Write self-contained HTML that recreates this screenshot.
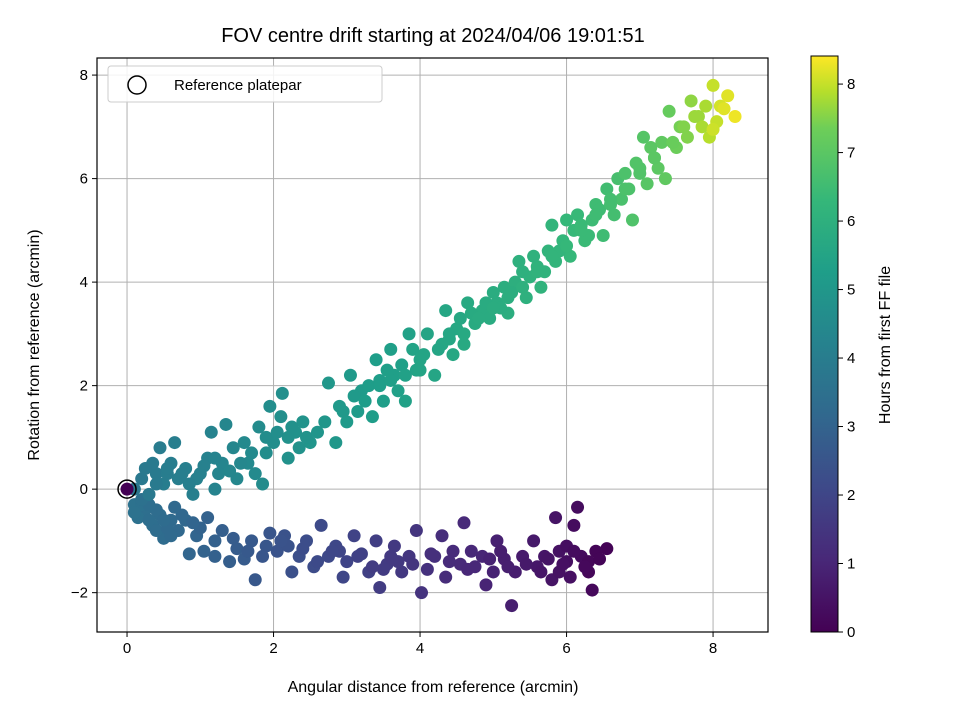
<!DOCTYPE html>
<html><head><meta charset="utf-8">
<style>body{margin:0;background:#fff}svg{display:block;font-family:"Liberation Sans","DejaVu Sans",sans-serif}</style>
</head><body>
<svg id="c" width="960" height="720"></svg>
<script>
const lowerX=[6.55,6.4,6.3,6.35,6.2,6.1,6.15,6.0,6.05,5.9,5.85,5.8,5.7,5.6,5.55,5.4,5.3,5.25,5.15,5.05,5.0,4.9,4.85,4.75,4.6,4.55,4.45,4.35,4.3,4.2,4.1,4.02,3.95,3.85,3.75,3.65,3.55,3.45,3.4,3.3,3.2,3.1,3.0,2.95,2.85,2.75,2.65,2.55,2.45,2.35,2.25,2.15,2.05,1.95,1.85,1.75,1.7,1.6,1.5,1.4,1.3,1.2,1.1,1.05,0.95,0.85,0.8,0.7,0.6,0.5,0.45,0.35,0.25,0.15,0.1,3.6,3.5,3.7,4.7,5.2,6.3,6.0,5.9,2.9,2.2,1.2,0.6,0.4,0.3,0.2,
6.45,6.25,6.1,5.95,5.75,5.65,5.45,5.1,4.95,4.65,4.4,4.15,3.9,3.62,3.35,3.15,2.8,2.6,2.4,2.1,1.9,1.65,1.45,1.0,0.9,0.75,0.55,0.4,0.3,0.2,0.1,0.65,0.5];
const lowerY=[-1.15,-1.2,-1.6,-1.95,-1.3,-0.7,-0.35,-1.4,-1.7,-1.2,-0.55,-1.75,-1.3,-1.5,-1.0,-1.3,-1.6,-2.25,-1.35,-1.0,-1.6,-1.85,-1.3,-1.5,-0.65,-1.45,-1.2,-1.7,-0.9,-1.3,-1.55,-2.0,-0.8,-1.3,-1.6,-1.1,-1.45,-1.9,-1.0,-1.6,-1.25,-0.9,-1.4,-1.7,-1.1,-1.3,-0.7,-1.5,-1.0,-1.3,-1.6,-0.9,-1.2,-0.85,-1.3,-1.75,-1.0,-1.35,-1.15,-1.4,-0.8,-1.0,-0.55,-1.2,-0.9,-1.25,-0.6,-0.8,-0.6,-0.95,-0.5,-0.7,-0.4,-0.55,-0.3,-1.3,-1.55,-1.4,-1.2,-1.5,-1.4,-1.1,-1.6,-1.2,-1.1,-1.3,-0.9,-0.8,-0.6,-0.3,
-1.35,-1.5,-1.2,-1.45,-1.35,-1.6,-1.45,-1.2,-1.35,-1.55,-1.4,-1.25,-1.45,-1.35,-1.5,-1.3,-1.2,-1.4,-1.15,-1.0,-1.1,-1.2,-0.95,-0.75,-0.65,-0.5,-0.75,-0.4,-0.3,-0.2,-0.45,-0.35,-0.6];
const lowerT=[0.05,0.1,0.15,0.2,0.25,0.3,0.3,0.35,0.4,0.45,0.5,0.5,0.55,0.6,0.65,0.7,0.75,0.8,0.8,0.85,0.9,0.95,1.0,1.05,1.1,1.1,1.15,1.2,1.25,1.3,1.35,1.4,1.45,1.5,1.55,1.6,1.65,1.7,1.75,1.8,1.85,1.9,1.95,2.0,2.05,2.1,2.15,2.2,2.25,2.3,2.35,2.4,2.45,2.5,2.55,2.6,2.65,2.7,2.75,2.8,2.85,2.9,2.95,3.0,3.05,3.1,3.15,3.2,3.25,3.3,3.35,3.4,3.45,3.5,3.55,1.6,1.65,1.55,1.05,0.8,0.15,0.35,0.45,2.0,2.4,2.9,3.25,3.35,3.4,3.5,
0.1,0.2,0.3,0.4,0.5,0.55,0.65,0.8,0.9,1.05,1.15,1.3,1.45,1.6,1.7,1.85,2.05,2.15,2.25,2.45,2.55,2.65,2.75,3.0,3.05,3.15,3.25,3.35,3.4,3.5,3.55,3.2,3.3];
const upperX=[0.1,0.2,0.3,0.4,0.45,0.5,0.6,0.65,0.7,0.8,0.9,1.0,1.1,1.15,1.2,1.3,1.35,1.45,1.5,1.6,1.65,1.75,1.8,1.85,1.9,1.95,2.0,2.1,2.12,2.2,2.3,2.4,2.5,2.7,2.75,2.85,2.9,3.0,3.05,3.15,3.2,3.3,3.35,3.4,3.5,3.55,3.6,3.7,3.75,3.8,3.85,3.95,4.05,4.1,4.2,4.3,4.35,4.45,4.5,4.6,4.65,4.75,4.85,4.95,5.05,5.15,5.2,5.3,5.35,5.45,5.5,5.6,5.65,5.75,5.8,5.85,5.95,6.05,6.1,6.15,6.25,6.35,6.4,6.5,6.55,6.65,6.7,6.75,6.85,6.9,7.0,7.05,7.1,7.2,7.3,7.35,7.4,7.5,7.55,7.65,7.7,7.8,7.9,7.95,8.0,8.05,8.1,8.2,8.3,7.85,8.0,4.4,4.55,4.7,4.9,5.0,5.1,5.25,5.4,5.55,5.7,5.9,6.0,6.2,6.3,6.45,6.6,6.8,6.95,7.15,7.25,3.45,3.65,3.9,4.0,2.2,2.35,1.55,1.25,0.95,0.55,0.35,0.25,
0.4,0.55,0.75,0.85,1.05,1.2,1.4,1.7,1.9,2.05,2.25,2.45,2.6,2.95,3.1,3.25,3.45,3.6,3.8,4.0,4.25,4.4,4.6,4.8,5.0,5.2,5.4,5.6,5.8,6.0,6.2,6.4,6.6,6.8,7.0,7.2,7.45,7.6,7.75,8.15];
const upperY=[0.0,0.2,-0.1,0.3,0.8,0.1,0.5,0.9,0.2,0.4,-0.1,0.3,0.6,1.1,0.0,0.5,1.25,0.8,0.2,0.9,0.5,0.3,1.2,0.1,0.7,1.6,0.9,1.4,1.85,0.6,1.1,1.3,0.9,1.3,2.05,0.9,1.6,1.3,2.2,1.5,1.9,2.0,1.4,2.5,1.7,2.3,2.7,1.9,2.4,1.7,3.0,2.3,2.6,3.0,2.2,2.8,3.45,2.6,3.1,2.8,3.6,3.2,3.45,3.3,3.6,3.9,3.4,4.0,4.4,3.7,4.1,4.3,3.9,4.6,5.1,4.4,4.8,4.5,5.0,5.3,4.8,5.2,5.5,4.9,5.8,5.3,6.0,5.6,5.8,5.2,6.2,6.8,5.9,6.4,6.7,6.0,7.3,6.6,7.0,6.8,7.5,7.2,7.4,6.8,7.8,7.1,7.4,7.6,7.2,7.0,6.95,3.0,3.3,3.4,3.6,3.8,3.5,3.8,4.2,4.5,4.2,4.6,5.2,5.1,4.9,5.4,5.6,6.1,6.3,6.6,6.2,2.1,2.2,2.7,2.3,1.0,0.8,0.5,0.3,0.2,0.3,0.5,0.4,
0.1,0.4,0.3,0.1,0.45,0.6,0.35,0.7,1.0,1.1,1.2,1.0,1.1,1.5,1.8,1.7,2.0,2.1,2.2,2.5,2.7,2.9,3.0,3.3,3.5,3.7,3.9,4.2,4.5,4.7,5.0,5.3,5.5,5.8,6.1,6.4,6.7,7.0,7.2,7.35];
const upperT=[3.7,3.8,3.85,3.9,3.95,4.0,4.0,4.05,4.05,4.1,4.1,4.15,4.2,4.25,4.25,4.3,4.35,4.35,4.4,4.45,4.45,4.5,4.55,4.55,4.6,4.6,4.65,4.7,4.7,4.75,4.8,4.85,4.9,4.95,5.0,5.0,5.05,5.1,5.1,5.15,5.15,5.2,5.2,5.25,5.25,5.3,5.3,5.35,5.35,5.4,5.4,5.45,5.5,5.5,5.55,5.6,5.6,5.65,5.65,5.7,5.7,5.75,5.8,5.8,5.85,5.9,5.9,5.95,6.0,6.0,6.05,6.1,6.1,6.15,6.2,6.2,6.25,6.3,6.35,6.35,6.4,6.45,6.5,6.5,6.55,6.6,6.65,6.7,6.75,6.8,6.85,6.9,6.95,7.0,7.1,7.1,7.2,7.3,7.4,7.5,7.6,7.7,7.8,7.9,8.0,8.0,8.1,8.2,8.3,7.8,8.05,5.6,5.65,5.75,5.8,5.85,5.85,5.9,6.0,6.05,6.1,6.2,6.3,6.4,6.4,6.5,6.6,6.75,6.85,7.0,7.05,5.25,5.3,5.45,5.5,4.75,4.8,4.4,4.3,4.15,4.0,3.9,3.85,
3.9,4.0,4.05,4.1,4.15,4.25,4.35,4.5,4.6,4.65,4.75,4.85,4.9,5.05,5.1,5.2,5.25,5.3,5.4,5.5,5.55,5.6,5.7,5.8,5.85,5.9,6.0,6.1,6.2,6.3,6.4,6.5,6.6,6.75,6.85,7.0,7.25,7.5,7.7,8.2];
const xTicks=[0,2,4,6,8];
const yTicks=[-2,0,2,4,6,8];
const cTicks=[0,1,2,3,4,5,6,7,8];

const NS="http://www.w3.org/2000/svg";
const svg=document.getElementById('c');
const L=97,R=768,T=58,B=632;
const xMin=-0.41,xMax=8.75,yMin=-2.76,yMax=8.33,tMax=8.41;
const sx=v=>L+(v-xMin)/(xMax-xMin)*(R-L);
const sy=v=>B-(v-yMin)/(yMax-yMin)*(B-T);
const CT=56,CB=632;
const sc=v=>CB-v/tMax*(CB-CT);
const stops=[[0,'#440154'],[.125,'#482878'],[.25,'#3e4989'],[.375,'#31688e'],[.5,'#26828e'],[.625,'#1f9e89'],[.75,'#35b779'],[.875,'#6ece58'],[.9375,'#b5de2b'],[1,'#fde725']];
function hex(h){return [1,3,5].map(i=>parseInt(h.substr(i,2),16));}
function cmap(f){f=Math.max(0,Math.min(1,f));for(let i=1;i<stops.length;i++){if(f<=stops[i][0]){const a=stops[i-1],b=stops[i];const u=(f-a[0])/(b[0]-a[0]);const A=hex(a[1]),B2=hex(b[1]);return 'rgb('+A.map((v,k)=>Math.round(v+(B2[k]-v)*u)).join(',')+')';}}return stops[stops.length-1][1];}
function mk(tag,attrs,parent){const e=document.createElementNS(NS,tag);for(const k in attrs)e.setAttribute(k,attrs[k]);(parent||svg).appendChild(e);return e;}

xTicks.forEach(v=>{const g=mk('line',{x1:sx(v),x2:sx(v),y1:T,y2:B,stroke:'#b0b0b0','stroke-width':1});

});
yTicks.forEach(v=>{const g=mk('line',{x1:L,x2:R,y1:sy(v),y2:sy(v),stroke:'#b0b0b0','stroke-width':1});

});

const pts=mk('g',{});


function drawSeries(X,Y,Tt,name){for(let i=0;i<X.length;i++){const c=mk('circle',{cx:sx(X[i]),cy:sy(Y[i]),r:6.5,fill:cmap(Tt[i]/tMax)},pts);

}}
drawSeries(lowerX,lowerY,lowerT,'point-early');
drawSeries(upperX,upperY,upperT,'point-late');
const o=mk('circle',{cx:sx(0),cy:sy(0),r:6.5,fill:cmap(0)});


const rf=mk('circle',{cx:sx(0),cy:sy(0),r:9,fill:'none',stroke:'#000','stroke-width':1.5});



const fr=mk('rect',{x:L,y:T,width:R-L,height:B-T,fill:'none',stroke:'#000','stroke-width':1.2});


xTicks.forEach(v=>{mk('line',{x1:sx(v),x2:sx(v),y1:B,y2:B+5,stroke:'#000'});
const t=mk('text',{x:sx(v),y:B+21,'text-anchor':'middle','font-size':15});t.textContent=v;

});
yTicks.forEach(v=>{mk('line',{x1:L-5,x2:L,y1:sy(v),y2:sy(v),stroke:'#000'});
const t=mk('text',{x:L-9,y:sy(v)+5,'text-anchor':'end','font-size':15});t.textContent=v<0?'\u2212'+(-v):v;

});

const defs=mk('defs',{});const lg=mk('linearGradient',{id:'vg',x1:0,y1:1,x2:0,y2:0},defs);
stops.forEach(s=>mk('stop',{offset:s[0],'stop-color':s[1]},lg));
const cb=mk('rect',{x:811,y:CT,width:27,height:CB-CT,fill:'url(#vg)',stroke:'#000','stroke-width':1});


cTicks.forEach(v=>{mk('line',{x1:838,x2:843,y1:sc(v),y2:sc(v),stroke:'#000'});
const t=mk('text',{x:847,y:sc(v)+5,'font-size':15});t.textContent=v;

});
</script>
<svg style="position:absolute;left:0;top:0" width="960" height="720">
<text x="433" y="42" text-anchor="middle" font-size="20" font-family="Liberation Sans, sans-serif">FOV centre drift starting at 2024/04/06 19:01:51</text>
<text x="433" y="692" text-anchor="middle" font-size="16" font-family="Liberation Sans, sans-serif">Angular distance from reference (arcmin)</text>
<text transform="translate(39,345) rotate(-90)" text-anchor="middle" font-size="16" font-family="Liberation Sans, sans-serif">Rotation from reference (arcmin)</text>
<text transform="translate(890,345) rotate(-90)" text-anchor="middle" font-size="16" font-family="Liberation Sans, sans-serif">Hours from first FF file</text>
<g>
<rect x="108" y="66" width="274" height="36" rx="3" fill="#fff" fill-opacity="0.85" stroke="#ccc"/>
<circle cx="137" cy="85" r="9" fill="none" stroke="#000" stroke-width="1.5"/>
<text x="174" y="90" font-size="15" font-family="Liberation Sans, sans-serif">Reference platepar</text>
</g>
</svg>
</body></html>
